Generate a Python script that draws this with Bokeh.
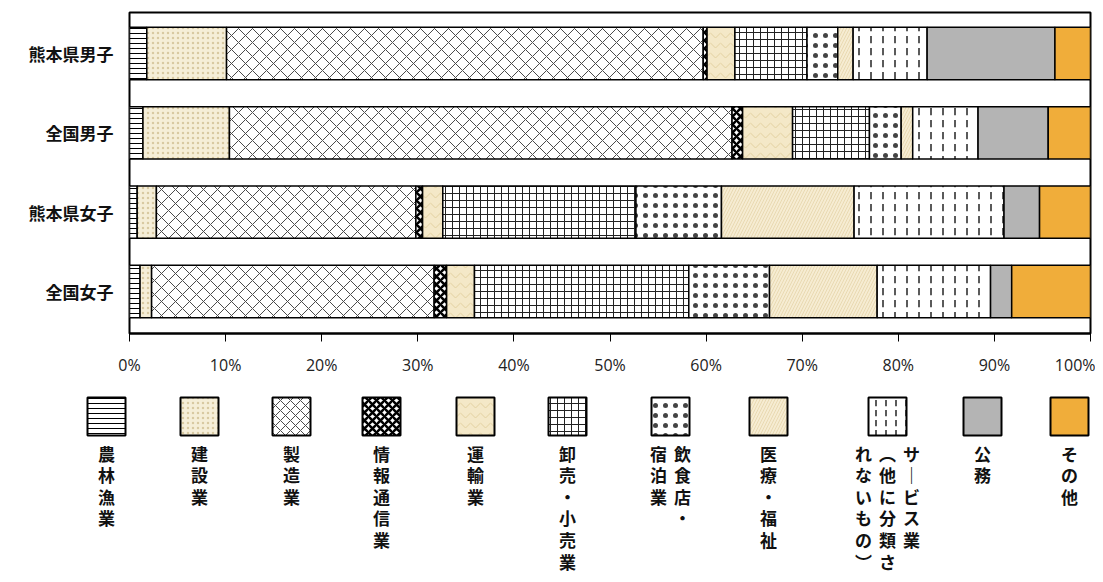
from bokeh.plotting import figure
from bokeh.models import ColumnDataSource, Range1d, FixedTicker
from bokeh.core.properties import value
from bokeh.embed import file_html
from bokeh.resources import INLINE

# ---------------- data ----------------
groups = ["熊本県男子", "全国男子", "熊本県女子", "全国女子"]
industries = ["農林漁業", "建設業", "製造業", "情報通信業", "運輸業", "卸売・小売業",
              "飲食店・宿泊業", "医療・福祉", "サービス業（他に分類されないもの）", "公務", "その他"]
# percentage shares, one list per industry, in the order of `groups`
agri      = [1.8, 1.4, 0.8, 1.1]
construct = [8.3, 9.0, 2.0, 1.2]
manufact  = [49.6, 52.3, 27.0, 29.4]
info      = [0.4, 1.1, 0.7, 1.3]
transport = [2.9, 5.2, 2.1, 2.9]
retail    = [7.5, 8.0, 20.1, 22.3]
food      = [3.2, 3.3, 8.9, 8.4]
medical   = [1.6, 1.2, 13.8, 11.2]
service   = [7.7, 6.8, 15.6, 11.8]
public    = [13.3, 7.3, 3.7, 2.2]
other     = [3.7, 4.4, 5.3, 8.2]
tick_values = [0, 10, 20, 30, 40, 50, 60, 70, 80, 90, 100]
tick_labels = ["0%", "10%", "20%", "30%", "40%", "50%", "60%", "70%", "80%", "90%", "100%"]
# legend labels written vertically, columns read from right to left
legend_columns = [["農林漁業"], ["建設業"], ["製造業"], ["情報通信業"], ["運輸業"], ["卸売・小売業"],
                  ["飲食店・", "宿泊業"], ["医療・福祉"],
                  ["サービス業", "（他に分類さ", "れないもの）"], ["公務"], ["その他"]]

series = [agri, construct, manufact, info, transport, retail, food, medical, service, public, other]

# ---------------- styles ----------------
fills   = ["white", "#f5eed8", "white", "white", "#f4e8c8", "white", "white", "#f6ecd2", "white", "#b4b4b4", "#f0ad3a"]
hatches = ["horizontal_line", "dot", "diagonal_cross", "diagonal_cross", "horizontal_wave", "cross",
           "dot", "right_diagonal_line", "vertical_dash", " ", " "]
hcolors = ["black", "#d8c9a2", "#4a4a4a", "black", "#e2d0a0", "#222222", "#444444", "#e4d4aa", "#222222", "black", "black"]
hscales = [5, 5, 14, 8, 10, 7, 10, 6, 12, 12, 12]
hweights = [1, 0.6, 1, 2.5, 1, 1, 0.5, 0.8, 1.5, 1, 1]

# row position of each group (top row first)
ypos = [len(groups) - 1 - i for i in range(len(groups))]
keys = ["s%d" % i for i in range(len(series))]
data = {"group": groups, "ypos": ypos}
for k, s in zip(keys, series):
    data[k] = s
source = ColumnDataSource(data)

W, H = 1095, 574
F_LEFT, F_RIGHT, F_TOP, F_BOTTOM = 129, 1090, 12, 333

p = figure(width=W, height=H, output_backend="svg", toolbar_location=None,
           x_range=Range1d(0, 100), y_range=Range1d(-0.53, len(groups) - 1 + 0.517),
           min_border_left=F_LEFT, min_border_right=W - F_RIGHT,
           min_border_top=F_TOP, min_border_bottom=H - F_BOTTOM)
p.hbar_stack(keys, y="ypos", height=0.66, source=source,
             fill_color=fills, hatch_pattern=hatches, hatch_color=hcolors,
             hatch_scale=hscales, hatch_weight=hweights,
             line_color="black", line_width=1.5)

p.outline_line_color = "black"
p.outline_line_width = 2
p.xgrid.visible = False
p.ygrid.visible = False
p.background_fill_color = "white"
p.border_fill_color = "white"

p.xaxis.ticker = FixedTicker(ticks=tick_values)
p.xaxis.major_label_overrides = {v: l for v, l in zip(tick_values, tick_labels)}
p.xaxis.major_label_text_font = "Open Sans"
p.xaxis.major_label_text_font_size = "16px"
p.xaxis.major_label_text_color = "#222222"
p.xaxis.major_label_standoff = 12
p.xaxis.axis_line_width = 2
p.xaxis.major_tick_in = 0
p.xaxis.major_tick_out = 8
p.xaxis.minor_tick_line_color = None

p.yaxis.ticker = FixedTicker(ticks=ypos)
p.yaxis.major_label_overrides = {y: g for y, g in zip(ypos, groups)}
p.yaxis.major_label_text_font = "Noto Sans CJK JP"
p.yaxis.major_label_text_font_style = "bold"
p.yaxis.major_label_text_font_size = "17px"
p.yaxis.major_label_text_color = "#111111"
p.yaxis.major_tick_line_color = None
p.yaxis.minor_tick_line_color = None
p.yaxis.axis_line_color = None
p.yaxis.major_label_standoff = 10

# ---------------- legend (pixel-space ranges, drawn below the axis) ----------------
p.extra_x_ranges = {"px": Range1d(F_LEFT, F_RIGHT)}
p.extra_y_ranges = {"py": Range1d(F_BOTTOM, F_TOP)}

cx = [106, 199, 291, 381, 475, 567, 670, 768, 887, 982, 1069]
n = len(industries)
box = 38
box_top = 397
p.quad(left=[c - box / 2 for c in cx], right=[c + box / 2 for c in cx],
       top=[box_top] * n, bottom=[box_top + box] * n,
       fill_color=fills, hatch_pattern=hatches, hatch_color=hcolors,
       hatch_scale=[min(s, 10) for s in hscales], hatch_weight=hweights,
       line_color="black", line_width=2,
       x_range_name="px", y_range_name="py", level="overlay")

tx, ty, tt = [], [], []
col_gap = 24
for c, cols in zip(cx, legend_columns):
    m = len(cols)
    for j, txt in enumerate(cols):
        x = c + (m - 1) * col_gap / 2 - j * col_gap
        vert = txt.replace("（", "︵").replace("）", "︶").replace("ー", "｜")
        tx.append(x)
        ty.append(box_top + box + 5)
        tt.append("\n".join(vert))
p.text(x=tx, y=ty, text=tt, text_font=value("Noto Sans CJK JP"), text_font_style="bold",
       text_font_size="17px", text_align="center", text_baseline="top",
       text_line_height=0.865, text_color="#111111",
       x_range_name="px", y_range_name="py", level="overlay")

open("out.html", "w").write(file_html(p, INLINE))
